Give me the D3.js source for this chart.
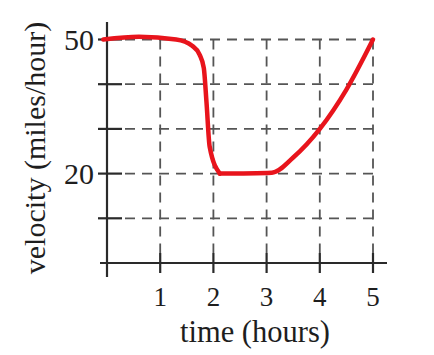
<!DOCTYPE html>
<html>
<head>
<meta charset="utf-8">
<script src="https://cdn.jsdelivr.net/npm/d3@7"></script>
<style>
  body { margin: 0; background: #fff; }
  text { font-family: "Liberation Serif", "DejaVu Serif", serif; fill: #1e1e1e; }
</style>
</head>
<body>
<svg id="canvas" width="434" height="355"></svg>
<script>
// curve, split at the sharp corner near t = 2.1
let dropTimes = [-0.07, 0.6, 1.3, 1.6, 1.74, 1.82, 1.87, 1.93, 2.12]
let dropVelocity = [50, 50.6, 50, 48.6, 46.6, 43.6, 36, 26, 20]
let riseTimes = [2.12, 3.1, 3.5, 4.0, 4.5, 5]
let riseVelocity = [20, 20.2, 23.6, 30, 38.8, 50]

let xTicks = [1, 2, 3, 4, 5]
let yTicks = [10, 20, 30, 40, 50]
let yLabels = [50, 20]

let canvas = d3.select('#canvas')

let x = d3.scaleLinear().domain([0, 5]).range([107, 373])
let y = d3.scaleLinear().domain([0, 50]).range([263, 39.5])

let gridColor = '#555'
let axisColor = '#2a2a2a'

// dashed grid
canvas.selectAll('.hgrid')
  .data(yTicks)
  .enter()
  .append('line')
  .attr('class', 'hgrid')
  .attr('x1', x(0) + 18)
  .attr('x2', x(5))
  .attr('y1', d => y(d))
  .attr('y2', d => y(d))
  .attr('stroke', gridColor)
  .attr('stroke-width', 1.8)
  .attr('stroke-dasharray', '10,7')

canvas.selectAll('.vgrid')
  .data(xTicks)
  .enter()
  .append('line')
  .attr('class', 'vgrid')
  .attr('x1', d => x(d))
  .attr('x2', d => x(d))
  .attr('y1', y(50))
  .attr('y2', y(0) - 10)
  .attr('stroke', gridColor)
  .attr('stroke-width', 1.8)
  .attr('stroke-dasharray', '10,7')

// axes
canvas.append('line')
  .attr('x1', x(0)).attr('x2', x(0))
  .attr('y1', 22).attr('y2', 277)
  .attr('stroke', axisColor).attr('stroke-width', 2.2)

canvas.append('line')
  .attr('x1', 100).attr('x2', 387)
  .attr('y1', y(0)).attr('y2', y(0))
  .attr('stroke', axisColor).attr('stroke-width', 2.2)

canvas.selectAll('.ytick')
  .data(yTicks)
  .enter()
  .append('line')
  .attr('class', 'ytick')
  .attr('x1', x(0) - 9)
  .attr('x2', x(0) + 15)
  .attr('y1', d => y(d))
  .attr('y2', d => y(d))
  .attr('stroke', axisColor)
  .attr('stroke-width', 2.2)

canvas.selectAll('.xtick')
  .data(xTicks)
  .enter()
  .append('line')
  .attr('class', 'xtick')
  .attr('x1', d => x(d))
  .attr('x2', d => x(d))
  .attr('y1', y(0) - 10)
  .attr('y2', y(0) + 10)
  .attr('stroke', axisColor)
  .attr('stroke-width', 2.2)

// tick labels
canvas.selectAll('.xlabel')
  .data(xTicks)
  .enter()
  .append('text')
  .attr('class', 'xlabel')
  .attr('x', d => x(d))
  .attr('y', 306)
  .attr('text-anchor', 'middle')
  .style('font-size', '27px')
  .text(d => d)

canvas.selectAll('.ylabel')
  .data(yLabels)
  .enter()
  .append('text')
  .attr('class', 'ylabel')
  .attr('x', 94)
  .attr('y', d => y(d))
  .attr('dy', '0.36em')
  .attr('text-anchor', 'end')
  .style('font-size', '30px')
  .text(d => d)

// axis titles
canvas.append('text')
  .attr('x', 255)
  .attr('y', 342)
  .attr('text-anchor', 'middle')
  .style('font-size', '30.5px')
  .text('time (hours)')

canvas.append('text')
  .attr('transform', 'translate(45,148) rotate(-90)')
  .attr('text-anchor', 'middle')
  .style('font-size', '30px')
  .text('velocity (miles/hour)')

// velocity curve
let line = d3.line()
  .x(d => x(d[0]))
  .y(d => y(d[1]))
  .curve(d3.curveMonotoneX)

let segments = [
  d3.zip(dropTimes, dropVelocity),
  d3.zip(riseTimes, riseVelocity)
]

canvas.selectAll('.curve')
  .data(segments)
  .enter()
  .append('path')
  .attr('class', 'curve')
  .attr('d', line)
  .attr('fill', 'none')
  .attr('stroke', '#e8141c')
  .attr('stroke-width', 4.5)
  .attr('stroke-linecap', 'round')
  .attr('stroke-linejoin', 'round')
</script>
</body>
</html>
